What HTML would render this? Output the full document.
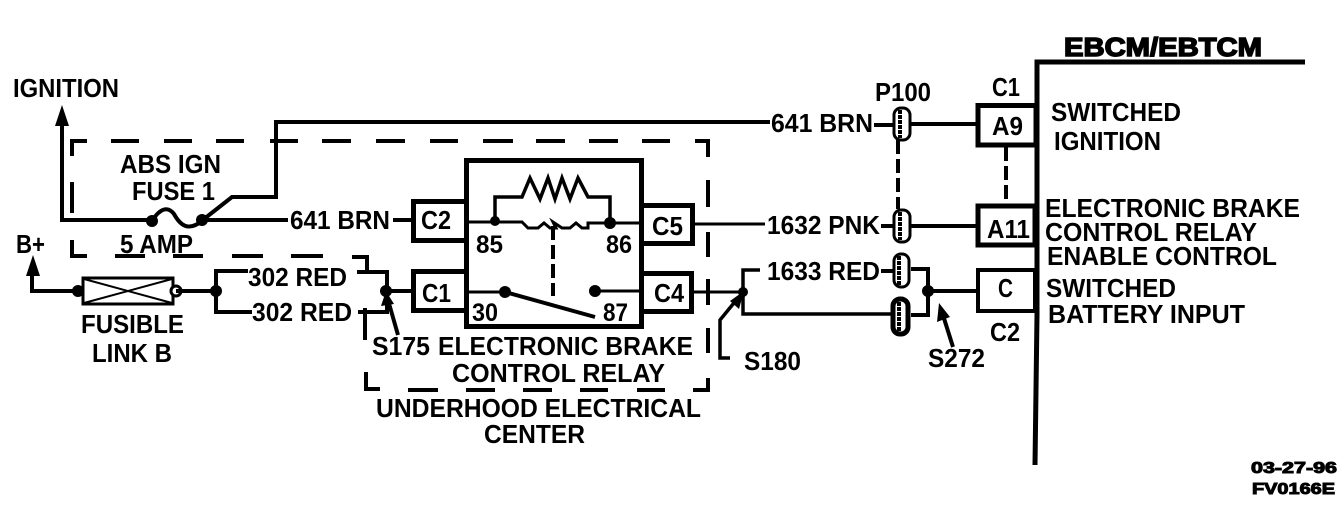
<!DOCTYPE html>
<html><head><meta charset="utf-8"><title>EBCM wiring diagram</title>
<style>
html,body{margin:0;padding:0;background:#fff}
svg{display:block}
text{font-family:"Liberation Sans",sans-serif;font-weight:bold;font-size:26px;fill:#000}
.w{fill:none;stroke:#000;stroke-width:4}
.t{fill:none;stroke:#000;stroke-width:3}
.b{fill:#fff;stroke:#000;stroke-width:5}
.d{fill:none;stroke:#000;stroke-width:4}
</style></head><body>
<svg width="1344" height="514" viewBox="0 0 1344 514" xmlns="http://www.w3.org/2000/svg">
<rect width="1344" height="514" fill="#fff"/>
<!-- dashed enclosure -->
<g class="d">
<path d="M72 156V141H87M111 141H139M164 141H192M216 141H244M270 141H298M322 141H351M376 141H405M430 141H458M483 141H513M536 141H565M589 141H618M642 141H670M695 141H708V157M708 180V207M708 232V257M708 279V305M708 328V353M708 378V390H693M665 390H637M608 390H580M552 390H523M495 390H466M438 390H408M380 389H366V372M365 340V308M352 257H367V272M323 256H291M263 256H232M203 256H173M145 256H115M87 256H72V240M72 213V182"/>
</g>
<!-- left wires -->
<path class="w" d="M62 122V220H152"/>
<polygon points="62,105 55,126 69,126"/>
<path class="w" d="M152 221C160 208 168 206 174 214C180 225 188 232 202 221"/>
<circle cx="152" cy="221" r="6"/><circle cx="202" cy="220" r="6"/>
<path class="w" d="M202 220H288M204 219L232 197H276V122H770"/>
<path class="w" d="M393 220H411"/>
<!-- B+ and fuse link -->
<path class="w" d="M32 272V291H83"/>
<polygon points="33,255 26,276 40,276"/>
<rect x="83" y="278" width="90" height="26" fill="#fff" stroke="#000" stroke-width="3"/>
<path class="t" d="M84 279L172 303M84 303L172 279" style="stroke-width:2"/>
<circle cx="78" cy="291" r="6"/>
<circle cx="176" cy="291" r="5" fill="#fff" stroke="#000" stroke-width="3"/>
<path class="w" d="M176 291H216M248 271H216V312H252"/>
<circle cx="216" cy="291" r="6"/>
<path class="w" d="M357 272H387V312H358M387 291H413"/>
<circle cx="386" cy="291" r="6"/>
<path class="w" d="M398 335L388 300"/>
<polygon points="386,291 381,306 394,304"/>
<!-- relay -->
<rect class="b" x="466.500" y="160.500" width="175" height="166"/>
<rect class="b" x="413.500" y="201.500" width="53" height="39"/>
<rect class="b" x="413.500" y="271.500" width="53" height="39"/>
<rect class="b" x="641.500" y="205.500" width="51" height="38"/>
<rect class="b" x="641.500" y="273.500" width="50" height="38"/>
<path class="t" d="M467 222H522L528 228H538L544 223L550 228H556L553 222L562 228H570L576 223L582 228H588V223H641"/>
<path class="w" d="M495 221V197H522L530 178L540 199L548 178L555 199L562 178L570 199L578 178L588 197H610V222" style="stroke-width:3.500"/>
<circle cx="495" cy="221" r="5"/><circle cx="610" cy="223" r="6"/>
<path class="w" d="M553 226V296" stroke-dasharray="14 5"/>
<path class="t" d="M467 292H505"/>
<path class="w" d="M505 292L595 317"/>
<circle cx="505" cy="292" r="6"/><circle cx="595" cy="291" r="6"/>
<path class="t" d="M595 291H641"/>
<!-- center-right wires -->
<path class="t" d="M694 224H765M693 292H743"/>
<path class="w" d="M760 270H743V314H893" style="stroke-width:3.500"/>
<circle cx="743" cy="292" r="5"/>
<path class="w" d="M730 358H720V320L738 298" style="stroke-width:3.500"/>
<polygon points="744,291 730,301 739,309"/>
<!-- pass-through connectors -->
<path class="w" d="M874 125H893M911 124H976M881 226H893M911 226H976M881 271H893M911 269H928V315H911M928 291H978"/>
<path class="w" d="M898 140V209" stroke-dasharray="14 5"/>
<path class="w" d="M1006 147V203" stroke-dasharray="14 5"/>
<g fill="#fff" stroke="#000" stroke-width="3">
<rect x="894" y="108" width="16" height="32" rx="7"/>
<rect x="894" y="210" width="16" height="32" rx="7"/>
<rect x="894" y="254" width="15" height="33" rx="7"/>
<rect x="893" y="299" width="15" height="35" rx="7" stroke-width="5"/>
</g>
<path d="M900 110V138M900 212V240M899 256V285M899 302V332" stroke="#000" stroke-width="4" stroke-dasharray="4 1" fill="none"/>
<circle cx="928" cy="291" r="6"/>
<path class="w" d="M953 347L942 312"/>
<polygon points="939,303 937,322 950,317"/>
<!-- module -->
<rect class="b" x="978" y="105.500" width="58" height="39.500"/>
<rect class="b" x="978" y="206" width="57" height="39"/>
<rect x="978" y="270" width="57" height="41" fill="#fff" stroke="#000" stroke-width="4"/>
<path d="M1305 62H1037V315L1035 465" fill="none" stroke="#000" stroke-width="5"/>
<!-- labels -->
<text x="13" y="97" textLength="106" lengthAdjust="spacingAndGlyphs">IGNITION</text>
<text x="120" y="173" textLength="101" lengthAdjust="spacingAndGlyphs">ABS IGN</text>
<text x="132" y="200" textLength="83" lengthAdjust="spacingAndGlyphs">FUSE 1</text>
<text x="120" y="253" textLength="73" lengthAdjust="spacingAndGlyphs">5 AMP</text>
<text x="16" y="253" textLength="29" lengthAdjust="spacingAndGlyphs">B+</text>
<text x="290" y="229" textLength="100" lengthAdjust="spacingAndGlyphs">641 BRN</text>
<text x="248" y="286" textLength="99" lengthAdjust="spacingAndGlyphs">302 RED</text>
<text x="252" y="321" textLength="100" lengthAdjust="spacingAndGlyphs">302 RED</text>
<text x="81" y="333" textLength="103" lengthAdjust="spacingAndGlyphs">FUSIBLE</text>
<text x="92" y="362" textLength="80" lengthAdjust="spacingAndGlyphs">LINK B</text>
<text x="372" y="355" textLength="58" lengthAdjust="spacingAndGlyphs">S175</text>
<text x="438" y="355" textLength="255" lengthAdjust="spacingAndGlyphs">ELECTRONIC BRAKE</text>
<text x="452" y="382" textLength="213" lengthAdjust="spacingAndGlyphs">CONTROL RELAY</text>
<text x="376" y="417" textLength="325" lengthAdjust="spacingAndGlyphs">UNDERHOOD ELECTRICAL</text>
<text x="484" y="443" textLength="101" lengthAdjust="spacingAndGlyphs">CENTER</text>
<text x="421" y="229" textLength="30" lengthAdjust="spacingAndGlyphs">C2</text>
<text x="422" y="302" textLength="29" lengthAdjust="spacingAndGlyphs">C1</text>
<text x="652" y="235" textLength="31" lengthAdjust="spacingAndGlyphs">C5</text>
<text x="654" y="302" textLength="30" lengthAdjust="spacingAndGlyphs">C4</text>
<text x="476" y="253" textLength="27" lengthAdjust="spacingAndGlyphs" style="font-size:25px">85</text>
<text x="606" y="253" textLength="26" lengthAdjust="spacingAndGlyphs" style="font-size:25px">86</text>
<text x="472" y="321" textLength="26" lengthAdjust="spacingAndGlyphs" style="font-size:25px">30</text>
<text x="603" y="321" textLength="25" lengthAdjust="spacingAndGlyphs" style="font-size:25px">87</text>
<text x="771" y="132" textLength="102" lengthAdjust="spacingAndGlyphs">641 BRN</text>
<text x="767" y="234" textLength="113" lengthAdjust="spacingAndGlyphs">1632 PNK</text>
<text x="767" y="280" textLength="113" lengthAdjust="spacingAndGlyphs">1633 RED</text>
<text x="744" y="370" textLength="57" lengthAdjust="spacingAndGlyphs">S180</text>
<text x="875" y="101" textLength="56" lengthAdjust="spacingAndGlyphs">P100</text>
<text x="992" y="96" textLength="28" lengthAdjust="spacingAndGlyphs">C1</text>
<text x="992" y="135" textLength="31" lengthAdjust="spacingAndGlyphs">A9</text>
<text x="987" y="238" textLength="43" lengthAdjust="spacingAndGlyphs">A11</text>
<text x="998" y="297" textLength="15" lengthAdjust="spacingAndGlyphs">C</text>
<text x="990" y="341" textLength="30" lengthAdjust="spacingAndGlyphs">C2</text>
<text x="928" y="367" textLength="57" lengthAdjust="spacingAndGlyphs">S272</text>
<text x="1064" y="56" textLength="198" lengthAdjust="spacingAndGlyphs" stroke="#000" stroke-width="1.500">EBCM/EBTCM</text>
<text x="1051" y="121" textLength="130" lengthAdjust="spacingAndGlyphs">SWITCHED</text>
<text x="1054" y="150" textLength="107" lengthAdjust="spacingAndGlyphs">IGNITION</text>
<text x="1045" y="217" textLength="255" lengthAdjust="spacingAndGlyphs">ELECTRONIC BRAKE</text>
<text x="1045" y="241" textLength="212" lengthAdjust="spacingAndGlyphs">CONTROL RELAY</text>
<text x="1047" y="265" textLength="230" lengthAdjust="spacingAndGlyphs">ENABLE CONTROL</text>
<text x="1046" y="297" textLength="130" lengthAdjust="spacingAndGlyphs">SWITCHED</text>
<text x="1048" y="323" textLength="197" lengthAdjust="spacingAndGlyphs">BATTERY INPUT</text>
<text x="1251" y="473" textLength="86" lengthAdjust="spacingAndGlyphs" style="font-size:16px" stroke="#000" stroke-width="1">03-27-96</text>
<text x="1252" y="494" textLength="83" lengthAdjust="spacingAndGlyphs" style="font-size:16px" stroke="#000" stroke-width="1">FV0166E</text>
</svg>
</body></html>
